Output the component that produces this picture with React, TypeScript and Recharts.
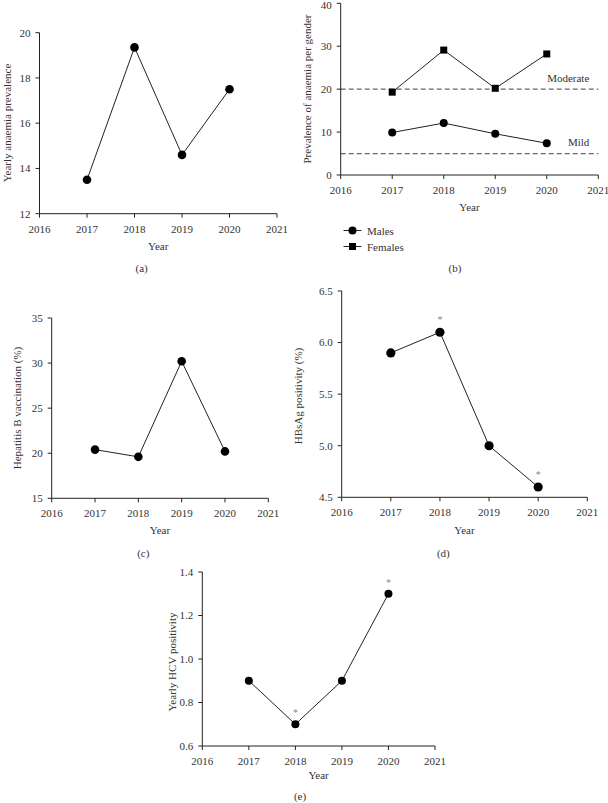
import React from 'react';
import { LineChart, Line, XAxis, YAxis, ReferenceLine, LabelList } from 'recharts';

const years = [2017, 2018, 2019, 2020];
const xTicks = [2016, 2017, 2018, 2019, 2020, 2021];

const anaemia = [13.5, 19.35, 14.6, 17.5];
const males = [9.9, 12.1, 9.6, 7.4];
const females = [19.3, 29.1, 20.2, 28.2];
const hepBVacc = [20.4, 19.6, 30.2, 20.2];
const hbsag = [5.9, 6.1, 5.0, 4.6];
const hbsagSig = ['', '*', '', '*'];
const hcv = [0.9, 0.7, 0.9, 1.3];
const hcvSig = ['', '*', '', '*'];

const thresholds = [
  { value: 20, label: 'Moderate' },
  { value: 5, label: 'Mild' },
];

const ticksA = [12, 14, 16, 18, 20];
const ticksB = [0, 10, 20, 30, 40];
const ticksC = [15, 20, 25, 30, 35];
const ticksD = [4.5, 5.0, 5.5, 6.0, 6.5];
const ticksE = [0.6, 0.8, 1.0, 1.2, 1.4];

const FONT = '"Liberation Serif", "Times New Roman", serif';
const TXT = '#333';
const AX = '#222';
const W = 608;
const H = 803;
const YW = 30;
const XH = 30;

type Rect = { x0: number; x1: number; y0: number; y1: number };

const fmt1 = (v: number) => v.toFixed(1);

function YTick(props: any) {
  const { x, y, payload, tickFormatter, index } = props;
  const label = tickFormatter ? tickFormatter(payload.value, index) : String(payload.value);
  const yy = Math.max(y, 5.5);
  return (
    <text
      x={x}
      y={yy}
      dy="0.355em"
      textAnchor="end"
      style={{ fontFamily: FONT, fontSize: 11, fill: TXT }}
    >
      {label}
    </text>
  );
}

function Panel(props: {
  rect: Rect;
  data: any[];
  yDomain: [number, number];
  yTicks: number[];
  yFmt?: (v: number) => string;
  yTitle: string;
  yTitlePos: [number, number];
  yearY: number;
  caption: string;
  captionPos: [number, number];
  extra?: (p: any) => React.ReactNode;
  children: React.ReactNode;
}) {
  const { rect, data, yDomain, yTicks, yFmt, yTitle, yTitlePos, yearY, caption, captionPos, extra } = props;
  const cx = (rect.x0 + rect.x1) / 2;
  const textStyle = { fontFamily: FONT, fontSize: 11, fill: TXT };
  return (
    <div style={{ position: 'absolute', left: 0, top: 0 }}>
      <LineChart
        width={W}
        height={H}
        data={data}
        margin={{ top: rect.y0, right: W - rect.x1, left: rect.x0 - YW, bottom: H - rect.y1 - XH }}
      >
        <XAxis
          dataKey="year"
          type="number"
          domain={[2016, 2021]}
          ticks={xTicks}
          interval={0}
          height={XH}
          allowDataOverflow
          tickSize={4}
          tickMargin={7}
          axisLine={{ stroke: AX, strokeWidth: 1 }}
          tickLine={{ stroke: AX, strokeWidth: 1 }}
          tick={{ fontFamily: FONT, fontSize: 11, fill: TXT }}
          label={(p: any) => (
            <g>
              <text x={cx} y={yearY} textAnchor="middle" style={textStyle}>
                Year
              </text>
              <text x={captionPos[0]} y={captionPos[1]} textAnchor="middle" style={textStyle}>
                {caption}
              </text>
              {extra ? extra(p) : null}
            </g>
          )}
        />
        <YAxis
          type="number"
          domain={yDomain}
          ticks={yTicks}
          interval={0}
          width={YW}
          allowDataOverflow
          tickSize={4}
          tickMargin={5}
          tickFormatter={yFmt}
          axisLine={{ stroke: AX, strokeWidth: 1 }}
          tickLine={{ stroke: AX, strokeWidth: 1 }}
          tick={(tp: any) => <YTick {...tp} tickFormatter={yFmt} />}
          label={() => (
            <text
              x={yTitlePos[0]}
              y={yTitlePos[1]}
              textAnchor="middle"
              dominantBaseline="central"
              transform={`rotate(-90 ${yTitlePos[0]} ${yTitlePos[1]})`}
              style={textStyle}
            >
              {yTitle}
            </text>
          )}
        />
        {props.children}
      </LineChart>
    </div>
  );
}

const circleDot = (r: number) => (p: any) => (
  <circle key={`c-${p.index}`} cx={p.cx} cy={p.cy} r={r} fill="#000" stroke="none" />
);
const squareDot = (s: number) => (p: any) => (
  <rect key={`s-${p.index}`} x={p.cx - s / 2} y={p.cy - s / 2} width={s} height={s} fill="#000" stroke="none" />
);

const starLabel = (dy: number) => (p: any) =>
  p.value ? (
    <text
      key={`st-${p.index}`}
      x={p.x}
      y={p.y - dy}
      textAnchor="middle"
      style={{ fontFamily: FONT, fontSize: 10, fill: '#888' }}
    >
      {p.value}
    </text>
  ) : null;

export default function App() {
  const dataA = years.map((y, i) => ({ year: y, v: anaemia[i] }));
  const dataB = years.map((y, i) => ({ year: y, m: males[i], f: females[i] }));
  const dataC = years.map((y, i) => ({ year: y, v: hepBVacc[i] }));
  const dataD = years.map((y, i) => ({ year: y, v: hbsag[i], s: hbsagSig[i] }));
  const dataE = years.map((y, i) => ({ year: y, v: hcv[i], s: hcvSig[i] }));

  const legendB = () => (
    <g>
      <line x1={343.5} x2={361.5} y1={230.5} y2={230.5} stroke={AX} strokeWidth={1} />
      <circle cx={352.5} cy={230.5} r={4} fill="#000" />
      <text x={367} y={234.5} style={{ fontFamily: FONT, fontSize: 11, fill: TXT }}>
        Males
      </text>
      <line x1={343.5} x2={361.5} y1={246.5} y2={246.5} stroke={AX} strokeWidth={1} />
      <rect x={349} y={243} width={7} height={7} fill="#000" />
      <text x={367} y={250.5} style={{ fontFamily: FONT, fontSize: 11, fill: TXT }}>
        Females
      </text>
    </g>
  );

  return (
    <div style={{ position: 'absolute', left: 0, top: 0, width: W, height: H, background: '#fff' }}>
      <Panel
        rect={{ x0: 39.5, x1: 277, y0: 32.7, y1: 213.7 }}
        data={dataA}
        yDomain={[12, 20]}
        yTicks={ticksA}
        yTitle="Yearly anaemia prevalence"
        yTitlePos={[7, 123]}
        yearY={250}
        caption="(a)"
        captionPos={[141.7, 271.5]}
      >
        <Line dataKey="v" stroke={AX} strokeWidth={1} dot={circleDot(4.3)} isAnimationActive={false} />
      </Panel>

      <Panel
        rect={{ x0: 340.7, x1: 598.3, y0: 3.3, y1: 175 }}
        data={dataB}
        yDomain={[0, 40]}
        yTicks={ticksB}
        yTitle="Prevalence of anaemia per gender"
        yTitlePos={[307, 89]}
        yearY={210.5}
        caption="(b)"
        captionPos={[455, 271.5]}
        extra={legendB}
      >
        {thresholds.map((t) => (
          <ReferenceLine
            key={t.label}
            y={t.value}
            stroke="#666"
            strokeWidth={1.2}
            strokeDasharray="5 3"
            label={(p: any) => {
              const vb = p.viewBox || {};
              return (
                <text
                  x={(vb.x ?? 340.7) + (vb.width ?? 257.6) - 9}
                  y={(vb.y ?? 0) - 7.5}
                  textAnchor="end"
                  style={{ fontFamily: FONT, fontSize: 11, fill: TXT }}
                >
                  {t.label}
                </text>
              );
            }}
          />
        ))}
        <Line dataKey="m" stroke={AX} strokeWidth={1} dot={circleDot(4)} isAnimationActive={false} />
        <Line dataKey="f" stroke={AX} strokeWidth={1} dot={squareDot(7)} isAnimationActive={false} />
      </Panel>

      <Panel
        rect={{ x0: 51.7, x1: 268.3, y0: 318, y1: 498.3 }}
        data={dataC}
        yDomain={[15, 35]}
        yTicks={ticksC}
        yTitle="Hepatitis B vaccination (%)"
        yTitlePos={[17, 408]}
        yearY={533.5}
        caption="(c)"
        captionPos={[143.3, 556.5]}
      >
        <Line dataKey="v" stroke={AX} strokeWidth={1} dot={circleDot(4.3)} isAnimationActive={false} />
      </Panel>

      <Panel
        rect={{ x0: 341.7, x1: 587.3, y0: 291, y1: 497.3 }}
        data={dataD}
        yDomain={[4.5, 6.5]}
        yTicks={ticksD}
        yFmt={fmt1}
        yTitle="HBsAg positivity (%)"
        yTitlePos={[298, 396]}
        yearY={534}
        caption="(d)"
        captionPos={[443.3, 556.5]}
      >
        <Line dataKey="v" stroke={AX} strokeWidth={1} dot={circleDot(4.6)} isAnimationActive={false}>
          <LabelList dataKey="s" content={starLabel(9)} />
        </Line>
      </Panel>

      <Panel
        rect={{ x0: 202.3, x1: 435, y0: 572, y1: 746 }}
        data={dataE}
        yDomain={[0.6, 1.4]}
        yTicks={ticksE}
        yFmt={fmt1}
        yTitle="Yearly HCV positivity"
        yTitlePos={[172, 662]}
        yearY={779}
        caption="(e)"
        captionPos={[300, 800]}
      >
        <Line dataKey="v" stroke={AX} strokeWidth={1} dot={circleDot(4)} isAnimationActive={false}>
          <LabelList dataKey="s" content={starLabel(8)} />
        </Line>
      </Panel>
    </div>
  );
}
